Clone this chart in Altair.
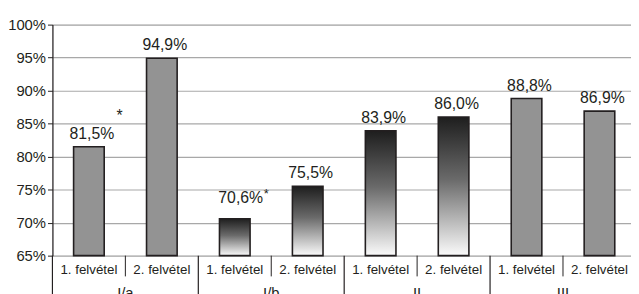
import altair as alt
import pandas as pd

groups = ["I/a", "I/a", "I/b", "I/b", "II", "II", "III", "III"]
rounds = ["1. felvétel", "2. felvétel"] * 4
values = [81.5, 94.9, 70.6, 75.5, 83.9, 86.0, 88.8, 86.9]
labels = ["81,5%", "94,9%", "70,6%", "75,5%", "83,9%", "86,0%", "88,8%", "86,9%"]
fills = ["solid", "solid", "gradient", "gradient", "gradient", "gradient", "solid", "solid"]
notes = ["*", "", "*", "", "", "", "", ""]
y_ticks = [65, 70, 75, 80, 85, 90, 95, 100]

keys = [f"{g}|{r}" for g, r in zip(groups, rounds)]
df = pd.DataFrame({
    "key": keys, "group": groups, "round": rounds, "value": values,
    "label": labels, "fill": fills, "note": notes,
    "first": [r.startswith("1.") for r in rounds],
})

W, H = 586, 234
FONT = "Liberation Sans"
DARK = "#231f20"

xs = alt.Scale(domain=keys, range=[0, 591], paddingInner=0, paddingOuter=0)
x = alt.X("key:N", scale=xs, axis=None, sort=keys)
x0 = alt.X("key:N", scale=xs, axis=None, sort=keys, bandPosition=0)
ys = alt.Scale(domain=[65, 100], nice=False, zero=False)
yaxis = alt.Axis(
    values=y_ticks, labelExpr="datum.value + '%'", title=None, labelOverlap=False,
    grid=True, gridColor="#a8a8a8", gridWidth=1.2,
    domainColor=DARK, domainWidth=1.2, tickColor=DARK, tickSize=5,
    labelFont=FONT, labelFontSize=15, labelColor=DARK, labelPadding=2)
y = alt.Y("value:Q", scale=ys, axis=yaxis)

base = alt.Chart(df)

bars_solid = base.transform_filter(alt.datum.fill == "solid").mark_bar(
    size=31, color="#939393", stroke=DARK, strokeWidth=1.6
).encode(
    x=alt.X("key:N", scale=xs, sort=keys,
            axis=alt.Axis(labels=False, ticks=False, title=None, domainColor=DARK, domainWidth=1.2)),
    y=y,
    y2=alt.datum(65),
)

grad = alt.Gradient(
    gradient="linear",
    stops=[alt.GradientStop(color="#1e1e1e", offset=0),
           alt.GradientStop(color="#6a6a6a", offset=0.45),
           alt.GradientStop(color="#fbfbfb", offset=1)],
    x1=0, x2=0, y1=0, y2=1,
)
bars_grad = base.transform_filter(alt.datum.fill == "gradient").mark_bar(
    size=31, fill=grad, stroke=DARK, strokeWidth=1.6
).encode(x=x, y=y, y2=alt.datum(65))

lbl = base.transform_filter(alt.datum.key != "I/b|1. felvétel").mark_text(
    font=FONT, fontSize=16, color=DARK, baseline="alphabetic", dx=3, dy=-8
).encode(x=x, y=y, text="label:N")

lbl_b = base.transform_filter(alt.datum.key == "I/b|1. felvétel").mark_text(
    font=FONT, fontSize=16, color=DARK, baseline="alphabetic", dx=6, dy=-16
).encode(x=x, y=y, text="label:N")

star_a = base.transform_filter(alt.datum.key == "I/a|1. felvétel").mark_text(
    font=FONT, fontSize=16, color=DARK, baseline="alphabetic", dx=31, dy=-26
).encode(x=x, y=y, text="note:N")

star_b = base.transform_filter(alt.datum.key == "I/b|1. felvétel").mark_text(
    font=FONT, fontSize=13, color=DARK, baseline="alphabetic", dx=32, dy=-21
).encode(x=x, y=y, text="note:N")

xlab = base.mark_text(font=FONT, fontSize=13.5, color=DARK, baseline="middle").encode(
    x=x, y=alt.value(H + 15), text="round:N")

sep_short = base.transform_filter(~alt.datum.first).mark_rule(color=DARK, strokeWidth=1).encode(
    x=x0, y=alt.value(H), y2=alt.value(H + 21))
sep_long = base.transform_filter(alt.datum.first).mark_rule(color=DARK, strokeWidth=1.2).encode(
    x=x0, y=alt.value(H), y2=alt.value(H + 45))

glab = base.transform_filter(~alt.datum.first).mark_text(
    font=FONT, fontSize=15, color=DARK, baseline="top").encode(
    x=x0, y=alt.value(H + 31), text="group:N")

chart = alt.layer(
    bars_solid, bars_grad, lbl, lbl_b, star_a, star_b, xlab, sep_short, sep_long, glab
).properties(
    width=W, height=H,
    autosize=alt.AutoSizeParams(type="none"),
    padding={"left": 45, "top": 15, "right": 0, "bottom": 37},
).configure_view(stroke=None).configure(background="white")

chart.save("out.html", embed_options={"renderer": "svg", "actions": False})
